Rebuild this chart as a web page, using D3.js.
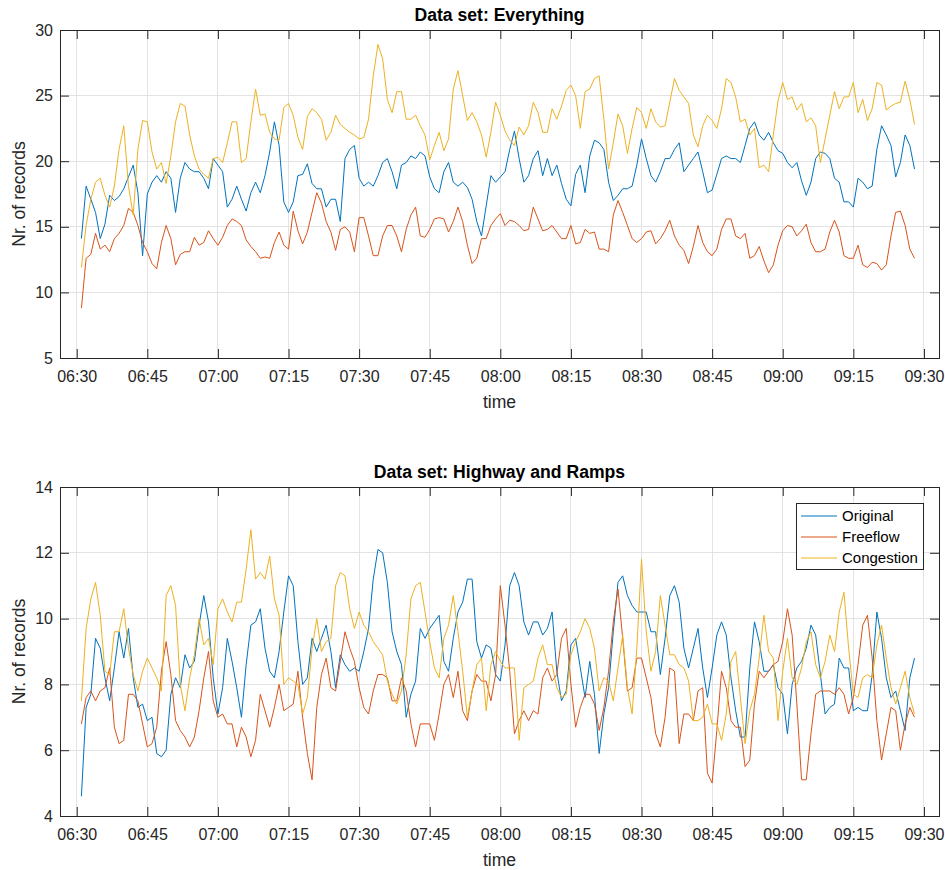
<!DOCTYPE html>
<html>
<head>
<meta charset="utf-8">
<script src="https://cdn.jsdelivr.net/npm/d3@7"></script>
<style>
  body { margin: 0; background: #fff; }
  svg { display: block; font-family: "Liberation Sans", Arial, sans-serif; }
</style>
</head>
<body>
<svg id="chart" width="945" height="870"></svg>
<script>
"use strict";

// ---- data (one sample per minute) ----

// minutes after 06:30 for every sample
const minutes = d3.range(1, 179);

// x tick labels
const timeTicks = ["06:30", "06:45", "07:00", "07:15", "07:30", "07:45", "08:00",
                   "08:15", "08:30", "08:45", "09:00", "09:15", "09:30"];

const seriesNames = ["Original", "Freeflow", "Congestion"];

// Data set: Everything
const topOriginal = [
  14.1, 18.1, 17.1, 16.1, 14.1, 15.2, 17.4, 17.0, 17.3, 17.9,
  18.8, 19.7, 17.6, 12.8, 17.5, 18.4, 18.9, 18.4, 19.2, 18.7,
  16.1, 18.7, 19.9, 19.4, 19.2, 19.2, 18.7, 17.9, 20.2, 19.7,
  19.2, 16.5, 17.1, 18.1, 17.1, 16.2, 17.6, 18.4, 17.6, 18.9,
  20.7, 23.0, 21.2, 16.9, 16.1, 16.9, 18.9, 19.0, 19.8, 18.3,
  17.9, 17.9, 16.5, 17.1, 17.1, 15.4, 20.2, 20.9, 21.2, 18.7,
  18.1, 18.4, 18.1, 18.9, 19.9, 20.2, 19.2, 17.9, 19.7, 19.9,
  20.4, 20.2, 20.7, 20.4, 18.8, 17.9, 17.6, 19.2, 19.9, 18.4,
  18.1, 18.4, 18.0, 17.1, 15.4, 14.3, 16.6, 18.9, 18.4, 18.8,
  19.2, 20.9, 22.3, 20.2, 18.4, 18.9, 20.2, 20.8, 18.9, 20.2,
  18.9, 19.7, 18.3, 17.1, 16.6, 19.0, 19.7, 17.6, 20.4, 21.6,
  21.4, 20.9, 18.4, 17.0, 17.4, 17.9, 17.9, 18.1, 19.7, 21.7,
  20.2, 18.9, 18.4, 19.2, 20.2, 20.2, 20.9, 21.4, 19.2, 19.7,
  20.2, 20.7, 19.2, 17.6, 17.8, 19.0, 20.2, 20.4, 20.2, 20.2,
  19.9, 21.2, 22.5, 23.0, 22.0, 21.6, 22.2, 21.4, 20.8, 20.6,
  19.9, 19.5, 19.9, 18.5, 17.4, 18.4, 20.2, 20.7, 20.6, 20.2,
  18.7, 18.4, 16.9, 16.9, 16.5, 18.7, 18.4, 17.9, 18.1, 20.9,
  22.7, 22.0, 21.2, 18.8, 19.9, 22.0, 21.2, 19.4
];
const topFreeflow = [
  8.8, 12.6, 12.9, 14.5, 13.3, 13.6, 13.1, 14.1, 14.5, 15.1,
  16.4, 16.1, 15.1, 13.8, 13.1, 12.2, 11.8, 13.8, 15.1, 14.1,
  12.1, 12.9, 13.1, 13.1, 14.2, 13.6, 13.8, 14.7, 14.1, 13.6,
  14.2, 15.1, 15.6, 15.4, 15.1, 14.0, 13.5, 13.1, 12.6, 12.7,
  12.6, 13.8, 14.6, 13.6, 13.3, 16.2, 14.7, 13.7, 14.6, 16.1,
  17.6, 16.8, 15.4, 14.6, 13.2, 14.8, 15.0, 14.6, 13.1, 15.7,
  15.7, 14.3, 12.8, 12.8, 14.3, 15.1, 15.1, 14.3, 13.1, 14.8,
  15.9, 16.5, 14.3, 14.2, 14.8, 15.6, 15.7, 15.6, 14.6, 15.4,
  16.5, 15.4, 13.6, 12.2, 12.6, 14.1, 14.1, 15.1, 15.6, 16.0,
  15.1, 15.5, 15.4, 15.1, 14.7, 14.8, 16.5, 15.6, 14.7, 14.8,
  15.1, 14.6, 14.1, 14.1, 15.1, 13.7, 13.8, 14.8, 14.5, 14.6,
  13.3, 13.3, 13.1, 15.9, 17.0, 16.1, 15.1, 14.1, 13.8, 14.1,
  14.6, 14.7, 13.7, 14.1, 14.7, 15.5, 14.3, 13.6, 13.2, 12.2,
  13.5, 15.1, 13.8, 13.1, 12.8, 13.3, 14.8, 15.6, 15.6, 14.3,
  14.1, 14.5, 12.6, 12.8, 13.5, 12.4, 11.5, 12.1, 13.6, 14.7,
  15.1, 15.0, 14.3, 14.7, 15.2, 13.8, 13.1, 13.1, 13.3, 14.6,
  15.5, 14.6, 12.8, 12.6, 12.6, 13.6, 12.1, 11.9, 12.3, 12.2,
  11.7, 12.1, 14.3, 16.1, 16.2, 15.1, 13.3, 12.6
];
const topCongestion = [
  11.9, 15.1, 17.1, 18.4, 18.7, 17.4, 16.5, 18.1, 20.9, 22.7,
  18.1, 15.9, 20.9, 23.1, 23.0, 20.7, 19.4, 19.9, 18.3, 20.4,
  23.0, 24.4, 24.2, 22.0, 20.4, 19.4, 19.0, 18.7, 20.2, 20.3,
  19.9, 21.4, 23.0, 23.0, 19.9, 20.2, 23.0, 25.5, 23.5, 23.6,
  22.2, 21.7, 21.6, 24.1, 24.4, 23.5, 21.8, 20.9, 23.4, 24.0,
  23.7, 23.2, 21.6, 22.2, 23.5, 22.8, 22.5, 22.2, 22.0, 21.7,
  21.8, 23.2, 26.5, 28.9, 27.8, 24.7, 23.7, 25.3, 25.3, 23.2,
  23.2, 23.5, 22.7, 22.0, 20.1, 21.2, 22.2, 20.8, 21.7, 25.5,
  26.9, 25.0, 23.1, 23.7, 23.0, 22.0, 20.3, 22.2, 24.5, 23.5,
  22.3, 21.6, 21.2, 22.6, 22.0, 22.7, 24.5, 23.7, 22.2, 22.2,
  24.0, 23.2, 24.2, 25.4, 25.8, 25.0, 22.5, 25.3, 25.5, 26.3,
  26.5, 23.2, 19.4, 21.4, 23.6, 22.7, 20.6, 22.5, 24.1, 23.7,
  22.5, 24.0, 23.0, 22.6, 22.7, 24.5, 26.3, 25.4, 24.9, 24.4,
  22.0, 21.1, 22.7, 23.5, 23.1, 22.5, 24.0, 26.3, 26.0, 24.9,
  23.0, 23.2, 22.0, 22.5, 19.5, 19.7, 19.2, 22.0, 24.6, 26.0,
  24.7, 24.9, 23.9, 24.4, 23.0, 23.3, 22.7, 19.9, 21.7, 23.5,
  25.3, 24.0, 24.9, 24.9, 26.0, 23.7, 24.7, 23.1, 24.0, 26.0,
  25.8, 23.9, 24.2, 24.4, 24.5, 26.1, 24.7, 22.8
];

// Data set: Highway and Ramps
const bottomOriginal = [
  4.6, 7.3, 7.7, 9.4, 9.1, 8.2, 7.5, 8.5, 9.6, 8.8,
  9.7, 8.2, 7.3, 7.4, 6.9, 7.0, 5.9, 5.8, 6.0, 7.7,
  8.2, 7.9, 8.9, 8.5, 8.7, 9.8, 10.7, 9.9, 8.2, 7.1,
  7.9, 9.4, 8.7, 7.9, 7.0, 8.6, 9.8, 9.9, 10.3, 9.1,
  8.4, 8.2, 9.0, 10.2, 11.3, 11.0, 9.3, 8.0, 8.2, 9.4,
  9.0, 9.4, 9.8, 9.0, 7.9, 8.9, 8.6, 8.4, 8.5, 8.4,
  9.0, 9.7, 11.2, 12.1, 12.0, 11.1, 9.6, 9.0, 8.6, 7.0,
  7.7, 8.1, 9.7, 9.4, 9.7, 9.9, 10.1, 8.7, 8.4, 9.4,
  10.2, 10.5, 11.2, 11.2, 9.3, 8.8, 9.2, 9.1, 8.3, 8.1,
  9.2, 11.0, 11.4, 11.0, 9.9, 9.5, 9.9, 9.9, 9.5, 9.7,
  10.2, 8.4, 7.5, 7.8, 9.2, 9.4, 8.5, 7.6, 8.7, 7.7,
  5.9, 7.1, 7.9, 9.6, 11.1, 11.3, 10.7, 10.4, 10.2, 10.2,
  10.2, 9.6, 9.6, 8.3, 9.4, 10.7, 11.0, 10.5, 9.1, 8.5,
  9.1, 9.7, 8.5, 7.6, 8.5, 9.5, 9.9, 9.5, 8.2, 7.2,
  6.4, 6.4, 8.5, 9.9, 9.3, 8.4, 8.4, 8.6, 7.9, 7.7,
  6.5, 8.0, 8.5, 8.7, 9.1, 9.8, 9.5, 8.3, 7.1, 7.3,
  7.4, 8.8, 8.5, 8.5, 7.2, 7.3, 7.2, 7.2, 8.3, 10.2,
  9.4, 8.2, 7.6, 7.8, 7.2, 6.6, 8.2, 8.8
];
const bottomFreeflow = [
  6.8, 7.6, 7.8, 7.5, 7.8, 7.9, 8.5, 6.7, 6.2, 6.3,
  7.7, 7.7, 7.5, 6.8, 6.1, 6.2, 6.7, 8.4, 9.3, 8.3,
  6.9, 6.6, 6.4, 6.1, 6.4, 7.2, 8.2, 9.0, 7.5, 7.0,
  7.1, 6.8, 6.8, 6.1, 6.7, 6.4, 5.8, 6.3, 7.7, 7.2,
  6.7, 7.3, 8.0, 7.2, 7.3, 7.4, 8.4, 7.0, 5.9, 5.1,
  7.3, 8.3, 8.8, 7.9, 7.8, 8.7, 9.6, 9.1, 8.7, 7.9,
  7.3, 7.1, 7.8, 8.3, 8.3, 8.2, 7.5, 7.5, 8.2, 7.8,
  6.8, 6.1, 6.8, 6.8, 6.8, 6.3, 7.1, 8.0, 8.3, 7.6,
  8.4, 7.2, 6.9, 7.8, 8.3, 8.1, 8.1, 7.5, 8.3, 11.0,
  9.8, 8.4, 6.5, 6.9, 7.2, 6.9, 7.2, 7.1, 8.2, 8.5,
  8.1, 8.3, 9.4, 9.7, 8.0, 6.7, 7.3, 7.7, 7.7, 7.4,
  6.6, 7.3, 8.4, 9.9, 10.9, 9.4, 7.8, 7.9, 8.8, 8.8,
  8.2, 7.6, 6.5, 6.1, 7.0, 8.5, 8.4, 6.2, 7.1, 7.1,
  6.9, 7.8, 7.9, 5.3, 5.0, 6.6, 8.4, 7.9, 6.9, 6.7,
  6.7, 5.5, 5.7, 7.4, 8.4, 8.2, 8.4, 8.6, 8.7, 9.3,
  10.3, 9.5, 7.4, 5.1, 5.1, 6.5, 7.7, 7.8, 7.8, 7.8,
  7.7, 7.9, 7.7, 7.1, 7.6, 8.6, 9.8, 10.1, 8.8, 6.9,
  5.7, 6.5, 7.3, 7.2, 6.0, 6.8, 7.3, 7.0
];
const bottomCongestion = [
  7.5, 9.7, 10.6, 11.1, 10.1, 8.4, 8.3, 9.6, 9.6, 10.3,
  9.1, 8.3, 7.8, 8.4, 8.8, 8.5, 8.2, 7.8, 10.7, 11.0,
  10.4, 8.0, 7.2, 8.2, 8.9, 10.0, 9.2, 9.4, 8.6, 10.3,
  10.6, 10.2, 9.9, 10.5, 10.5, 11.5, 12.7, 11.2, 11.4, 11.2,
  11.9, 10.6, 10.1, 8.0, 8.2, 8.1, 8.0, 7.1, 7.6, 9.1,
  10.0, 9.0, 9.3, 9.4, 11.0, 11.4, 11.3, 10.3, 9.7, 10.2,
  9.8, 9.6, 9.3, 9.1, 8.9, 8.1, 7.7, 7.4, 7.8, 8.9,
  10.6, 11.0, 11.1, 10.2, 9.3, 8.5, 8.2, 9.4, 9.8, 10.7,
  9.6, 8.4, 7.0, 7.8, 8.6, 8.8, 7.2, 8.6, 9.0, 8.7,
  8.5, 8.5, 8.5, 6.3, 7.9, 8.0, 8.1, 8.8, 9.2, 8.6,
  8.6, 7.9, 7.6, 7.7, 8.9, 9.3, 9.6, 10.0, 9.7, 9.1,
  7.8, 8.2, 8.1, 7.5, 8.5, 9.5, 7.9, 7.1, 9.1, 11.8,
  9.6, 8.4, 9.0, 10.7, 9.8, 8.9, 8.9, 8.6, 8.5, 8.1,
  6.9, 6.9, 7.0, 7.4, 6.8, 6.8, 6.3, 7.1, 8.7, 9.0,
  7.6, 6.2, 7.2, 7.7, 8.8, 10.1, 9.0, 8.8, 6.9, 8.4,
  9.4, 8.2, 8.0, 8.5, 9.3, 9.6, 8.6, 8.2, 8.7, 9.5,
  9.0, 10.2, 10.8, 9.1, 7.7, 7.6, 8.2, 8.3, 8.2, 9.2,
  9.8, 8.8, 7.9, 7.4, 7.9, 8.4, 7.6, 7.1
];

// ---- setup ----

const colors = ["#0072BD", "#D95319", "#EDB120"];
const axisColor = "#262626";
const gridColor = "#e3e3e3";

const svg = d3.select("#chart");
svg.append("rect").attr("width", 945).attr("height", 870).attr("fill", "#fff");

const parseTime = d3.timeParse("%H:%M");
const startTime = parseTime("06:30");
const addMinutes = (t, m) => new Date(t.getTime() + m * 60000);
const sampleTimes = minutes.map(m => addMinutes(startTime, m));
const tickTimes = timeTicks.map(parseTime);

// plot box in pixels, shared by both panels
const left = 60, right = 939;

// time scale, 06:30 sits a little right of the left edge
const x = d3.scaleTime()
    .domain([addMinutes(startTime, -3.55), addMinutes(startTime, 183.2)])
    .range([left, right]);

function drawPanel(opts) {
    const y = d3.scaleLinear()
        .domain(opts.yDomain)
        .range([opts.bottom, opts.top]);

    const g = svg.append("g");

    // grid
    const grid = g.append("g")
        .attr("stroke", gridColor)
        .attr("shape-rendering", "crispEdges");
    grid.selectAll(".vx")
        .data(tickTimes)
        .enter().append("line")
        .attr("x1", d => x(d)).attr("x2", d => x(d))
        .attr("y1", opts.top).attr("y2", opts.bottom);
    grid.selectAll(".hy")
        .data(opts.yTicks)
        .enter().append("line")
        .attr("x1", left).attr("x2", right)
        .attr("y1", d => y(d)).attr("y2", d => y(d));

    // series lines
    const line = d3.line()
        .x((d, i) => x(sampleTimes[i]))
        .y(d => y(d));
    opts.series.forEach(function (values, k) {
        g.append("path")
            .datum(values)
            .attr("fill", "none")
            .attr("stroke", colors[k])
            .attr("stroke-width", 1)
            .attr("stroke-linejoin", "round")
            .attr("d", line);
    });

    // axes, ticks point inwards like matlab
    const fmt = d3.timeFormat("%H:%M");
    const styleAxis = sel => sel
        .attr("font-family", null)
        .attr("font-size", 16)
        .attr("color", axisColor)
        .call(s => s.select(".domain").remove());

    g.append("g")
        .attr("transform", "translate(0," + opts.bottom + ")")
        .call(d3.axisBottom(x).tickValues(tickTimes).tickFormat(fmt)
            .tickSizeInner(-9).tickSizeOuter(0).tickPadding(13))
        .call(styleAxis);
    g.append("g")
        .attr("transform", "translate(0," + opts.top + ")")
        .call(d3.axisTop(x).tickValues(tickTimes).tickFormat("")
            .tickSizeInner(-9).tickSizeOuter(0))
        .call(styleAxis);
    g.append("g")
        .attr("transform", "translate(" + left + ",0)")
        .call(d3.axisLeft(y).tickValues(opts.yTicks)
            .tickSizeInner(-9).tickSizeOuter(0).tickPadding(7))
        .call(styleAxis);
    g.append("g")
        .attr("transform", "translate(" + right + ",0)")
        .call(d3.axisRight(y).tickValues(opts.yTicks).tickFormat("")
            .tickSizeInner(-9).tickSizeOuter(0))
        .call(styleAxis);

    // box
    g.append("rect")
        .attr("x", left).attr("y", opts.top)
        .attr("width", right - left).attr("height", opts.bottom - opts.top)
        .attr("fill", "none")
        .attr("stroke", axisColor)
        .attr("shape-rendering", "crispEdges");

    // title and labels
    g.append("text")
        .attr("x", (left + right) / 2).attr("y", opts.top - 9)
        .attr("text-anchor", "middle")
        .attr("font-size", 17.6).attr("font-weight", "bold")
        .attr("fill", "#000")
        .text(opts.title);
    g.append("text")
        .attr("x", (left + right) / 2).attr("y", opts.bottom + 50)
        .attr("text-anchor", "middle")
        .attr("font-size", 17.6)
        .attr("fill", axisColor)
        .text("time");
    g.append("text")
        .attr("transform", "translate(25," + (opts.top + opts.bottom) / 2 + ") rotate(-90)")
        .attr("text-anchor", "middle")
        .attr("font-size", 17.6)
        .attr("fill", axisColor)
        .text("Nr. of records");

    // legend
    if (opts.legend) {
        const lg = g.append("g").attr("transform", "translate(796," + (opts.top + 16) + ")");
        lg.append("rect")
            .attr("width", 127).attr("height", 66)
            .attr("fill", "#fff")
            .attr("stroke", axisColor)
            .attr("shape-rendering", "crispEdges");
        seriesNames.forEach(function (name, k) {
            const yy = 13 + k * 21;
            lg.append("line")
                .attr("x1", 5).attr("x2", 41)
                .attr("y1", yy).attr("y2", yy)
                .attr("stroke", colors[k]);
            lg.append("text")
                .attr("x", 46).attr("y", yy)
                .attr("dy", "0.35em")
                .attr("font-size", 15)
                .attr("fill", "#000")
                .text(name);
        });
    }
}

drawPanel({
    top: 30, bottom: 358,
    yDomain: [5, 30], yTicks: [5, 10, 15, 20, 25, 30],
    title: "Data set: Everything",
    series: [topOriginal, topFreeflow, topCongestion],
    legend: false
});

drawPanel({
    top: 487, bottom: 816,
    yDomain: [4, 14], yTicks: [4, 6, 8, 10, 12, 14],
    title: "Data set: Highway and Ramps",
    series: [bottomOriginal, bottomFreeflow, bottomCongestion],
    legend: true
});
</script>
</body>
</html>
